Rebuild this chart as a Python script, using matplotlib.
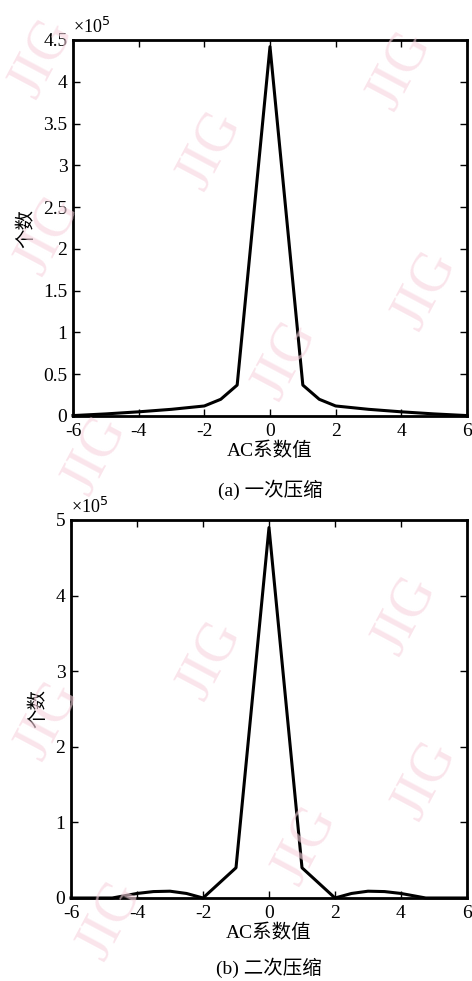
import matplotlib
matplotlib.use("Agg")
import matplotlib.pyplot as plt
from matplotlib.ticker import FuncFormatter
from matplotlib.transforms import offset_copy

# ---- data (counts in units of 1e5) ----
x_a = [-6, -5, -4, -3, -2, -1.5, -1, 0, 1, 1.5, 2, 3, 4, 5, 6]
y_a = [0.005, 0.025, 0.05, 0.08, 0.12, 0.2, 0.37, 4.42, 0.37, 0.2, 0.12, 0.08, 0.05, 0.025, 0.005]

x_b = [-6, -5, -4.75, -4.5, -4, -3.5, -3, -2.5, -2, -1.5, -1, 0,
       1, 1.5, 2, 2.5, 3, 3.5, 4, 4.5, 4.75, 5, 6]
y_b = [0, 0, 0, 0.02, 0.06, 0.085, 0.09, 0.06, 0, 0.2, 0.4, 4.9,
       0.4, 0.2, 0, 0.06, 0.09, 0.085, 0.06, 0.02, 0, 0, 0]

xticks = [-6, -4, -2, 0, 2, 4, 6]
yticks_a = [0, 0.5, 1, 1.5, 2, 2.5, 3, 3.5, 4, 4.5]
yticks_b = [0, 1, 2, 3, 4, 5]
xlabel = "AC系数值"
ylabel = "个数"
captions = ["(a) 一次压缩", "(b) 二次压缩"]

fam = ["Liberation Serif", "Noto Sans CJK SC"]
plt.rcParams["font.family"] = fam
plt.rcParams["axes.unicode_minus"] = False

W, H = 472, 981
fig = plt.figure(figsize=(W / 100, H / 100), dpi=100)

# watermarks (pixel centres)
wm = [(42, 58), (400, 70), (210, 150), (48, 235), (425, 290), (285, 360),
      (95, 455), (405, 615), (210, 660), (48, 720), (425, 780), (305, 845), (110, 920)]
for wx, wy in wm:
    fig.text(wx / W, 1 - wy / H, "JIG", color="#f7d3de", alpha=0.6, fontsize=40,
             rotation=62, ha="center", va="center", family="Liberation Serif", zorder=0)

def panel(rect, xs, ys, yticks, ymax, cap, cap_off):
    ax = fig.add_axes(rect)
    ax.patch.set_alpha(0)
    ax.plot(xs, ys, color="black", lw=2.2, clip_on=False)
    ax.set_xlim(-6, 6)
    ax.set_ylim(0, ymax)
    ax.set_xticks(xticks)
    ax.set_yticks(yticks)
    ax.yaxis.set_major_formatter(FuncFormatter(lambda v, p: "%g" % v))
    ax.xaxis.set_major_formatter(FuncFormatter(lambda v, p: "%g" % v))
    ax.tick_params(direction="in", length=5, width=1, top=True, right=True,
                   labelsize=14)
    ax.tick_params(axis="x", pad=5)
    ax.tick_params(axis="y", pad=4)
    for s in ax.spines.values():
        s.set_linewidth(2)
    ax.set_xlabel(xlabel, fontsize=14, labelpad=1)
    ax.set_ylabel(ylabel, fontsize=14, labelpad=6)
    ax.text(0.0, 1.008, "×10$^5$", transform=ax.transAxes, fontsize=13,
            ha="left", va="bottom")
    tr = offset_copy(ax.transAxes, fig=fig, x=0, y=-cap_off, units="dots")
    ax.text(0.5, 0.0, cap, transform=tr, fontsize=14, ha="center", va="center")
    return ax

panel([73 / W, 1 - 416 / H, 394 / W, 376 / H], x_a, y_a, yticks_a, 4.5, captions[0], 74)
panel([71 / W, 1 - 898 / H, 396 / W, 378 / H], x_b, y_b, yticks_b, 5, captions[1], 70)

fig.savefig("out.png", dpi=100, facecolor="white")
